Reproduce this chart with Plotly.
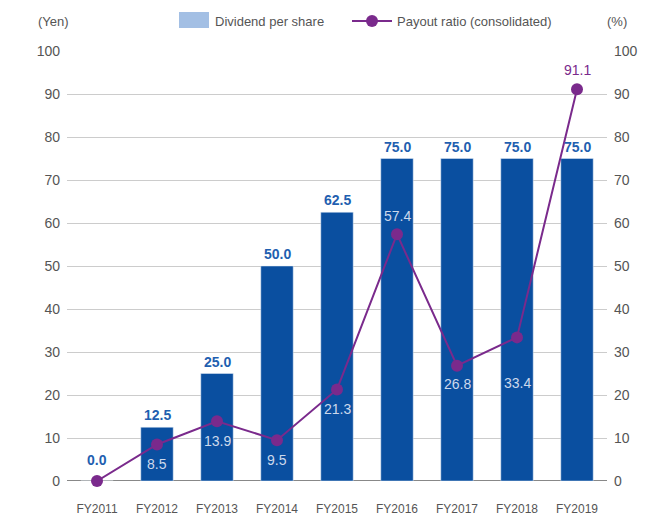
import plotly.graph_objects as go

categories = ["FY2011", "FY2012", "FY2013", "FY2014", "FY2015", "FY2016", "FY2017", "FY2018", "FY2019"]
dividend = [0.0, 12.5, 25.0, 50.0, 62.5, 75.0, 75.0, 75.0, 75.0]
payout = [0.0, 8.5, 13.9, 9.5, 21.3, 57.4, 26.8, 33.4, 91.1]
# label offsets (pixels)
dividend_label_shift = [21, 12, 12, 12, 12, 12, 12, 12, 12]
payout_label_shift = [None, -20, -20, -20, -20, 18, -18, -46, 19]
tick_vals = [0, 10, 20, 30, 40, 50, 60, 70, 80, 90, 100]

BAR = "#0a4fa0"
LINE = "#7a2a8c"
GREY = "#555555"
FONT = "Liberation Sans, Arial, sans-serif"

OFF = 8  # page body margin
W, H = 668 - OFF, 515 - OFF
L, T = 67 - OFF, 51 - OFF
R = W - (607 - OFF)
B = H - (481 - OFF)
pw, ph = W - L - R, H - T - B

def px(x):
    return (x - OFF - L) / pw

def py(y):
    return (H - B - (y - OFF)) / ph

fig = go.Figure()
fig.add_trace(go.Bar(
    x=categories, y=dividend, marker_color=BAR, width=0.54,
    cliponaxis=False, showlegend=False, yaxis="y",
))
fig.add_trace(go.Scatter(
    x=categories, y=payout, mode="lines+markers",
    line=dict(color=LINE, width=2), marker=dict(color=LINE, size=12),
    cliponaxis=False, showlegend=False, yaxis="y2",
))

for c, v, s in zip(categories, dividend, dividend_label_shift):
    fig.add_annotation(x=c, y=v, xref="x", yref="y", text=f"<b>{v:.1f}</b>",
                       showarrow=False, yshift=s, yanchor="middle",
                       font=dict(color="#1f5fb0", size=14, family=FONT))

for c, v, s in zip(categories, payout, payout_label_shift):
    if s is None:
        continue
    color = LINE if v > 80 else "#cdd9ec"
    fig.add_annotation(x=c, y=v, xref="x", yref="y2", text=f"{v:.1f}",
                       showarrow=False, yshift=s, yanchor="middle",
                       font=dict(color=color, size=14, family=FONT))

# manual legend and unit labels
LY = 21
fig.add_annotation(xref="paper", yref="paper", x=px(213), y=py(LY), text="Dividend per share",
                   showarrow=False, xanchor="left", yanchor="middle",
                   font=dict(color=GREY, size=13, family=FONT))
fig.add_annotation(xref="paper", yref="paper", x=px(395), y=py(LY), text="Payout ratio (consolidated)",
                   showarrow=False, xanchor="left", yanchor="middle",
                   font=dict(color=GREY, size=13, family=FONT))
fig.add_annotation(xref="paper", yref="paper", x=px(53), y=py(LY), text="(Yen)",
                   showarrow=False, xanchor="center", yanchor="middle",
                   font=dict(color=GREY, size=13, family=FONT))
fig.add_annotation(xref="paper", yref="paper", x=px(617), y=py(LY), text="(%)",
                   showarrow=False, xanchor="center", yanchor="middle",
                   font=dict(color=GREY, size=13, family=FONT))

fig.add_shape(type="line", xref="paper", yref="y", x0=0, x1=1, y0=0, y1=0,
              line=dict(color="#888888", width=2), layer="below")
fig.add_shape(type="rect", xref="paper", yref="paper",
              x0=px(179), x1=px(209), y0=py(28), y1=py(12),
              fillcolor="#a3bfe4", line_width=0)
fig.add_shape(type="line", xref="paper", yref="paper",
              x0=px(352), x1=px(392), y0=py(LY), y1=py(LY),
              line=dict(color=LINE, width=2))
fig.add_shape(type="circle", xref="paper", yref="paper",
              x0=px(366), x1=px(378), y0=py(LY + 6), y1=py(LY - 6),
              fillcolor=LINE, line_width=0)

axis_font = dict(color=GREY, size=14, family=FONT)
fig.update_layout(
    width=W, height=H, margin=dict(l=L, r=R, t=T, b=B, autoexpand=False),
    paper_bgcolor="white", plot_bgcolor="white",
    xaxis=dict(type="category", range=[-0.5, 8.5], showgrid=False, automargin=False,
               tickfont=dict(color=GREY, size=12, family=FONT),
               ticks="", ticklabelstandoff=19, showline=False, zeroline=False),
    yaxis=dict(range=[0, 100], tickvals=tick_vals, showgrid=True, gridcolor="#cccccc",
               gridwidth=1, zeroline=False, showline=False, tickfont=axis_font,
               ticks="", ticklabelstandoff=6, automargin=False),
    yaxis2=dict(range=[0, 100], tickvals=tick_vals, overlaying="y", side="right",
                showgrid=False, zeroline=False, showline=False, tickfont=axis_font,
                ticks="", ticklabelstandoff=6, automargin=False),
)

fig.write_html("out.html")
